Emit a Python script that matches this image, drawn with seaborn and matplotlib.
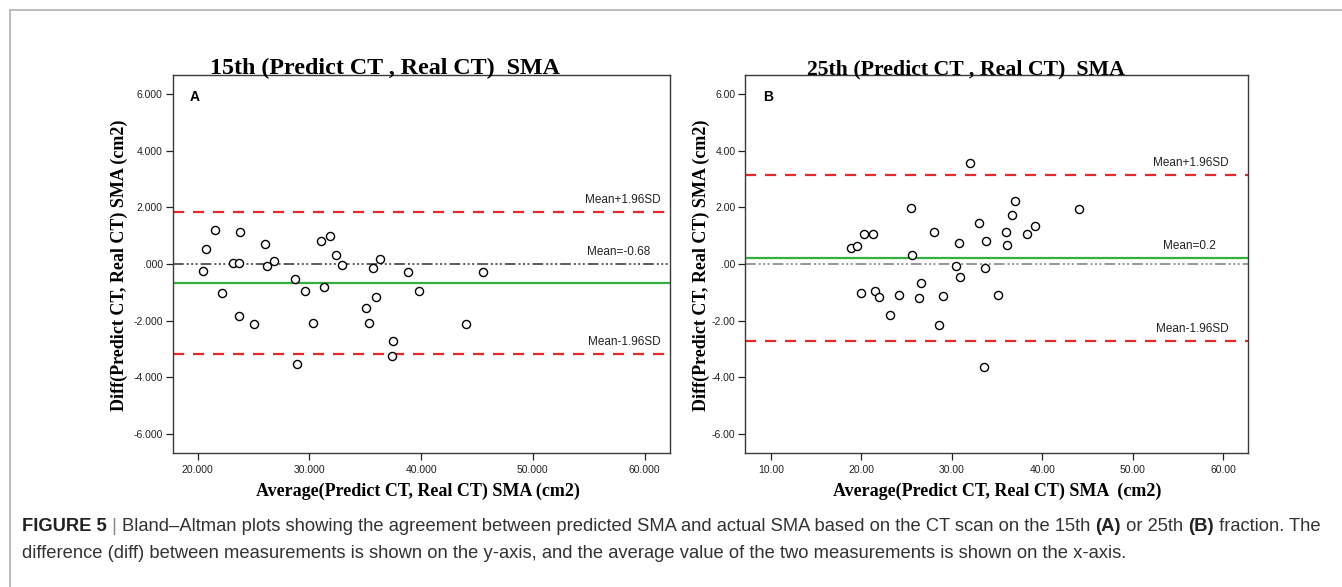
import numpy as np
import pandas as pd
import matplotlib
matplotlib.use("Agg")
import matplotlib.pyplot as plt
from matplotlib.lines import Line2D
from matplotlib.ticker import FuncFormatter
import seaborn as sns

# ---------------- data ----------------
avg_15 = [20.51, 20.78, 21.56, 22.21, 23.14, 23.73, 23.82, 23.70, 25.08, 26.00,
          26.24, 26.81, 28.69, 28.87, 29.58, 30.30, 31.01, 31.34, 31.88, 32.36,
          32.95, 35.10, 35.37, 35.70, 35.99, 36.32, 37.51, 37.40, 38.83, 39.81,
          43.99, 45.54]
diff_15 = [-0.26, 0.53, 1.20, -1.04, 0.04, 0.02, 1.14, -1.85, -2.12, 0.71,
           -0.07, 0.09, -0.52, -3.52, -0.95, -2.09, 0.81, -0.82, 0.98, 0.31,
           -0.05, -1.55, -2.09, -0.15, -1.15, 0.19, -2.71, -3.25, -0.29, -0.94,
           -2.12, -0.29]
mean_15, upper_15, lower_15 = -0.68, 1.85, -3.17

avg_25 = [18.84, 19.50, 20.28, 21.30, 19.98, 21.49, 22.00, 23.18, 24.21, 25.50,
          25.65, 26.35, 26.64, 28.01, 28.56, 29.07, 30.48, 30.81, 30.92, 32.06,
          32.98, 33.54, 33.72, 33.76, 35.08, 36.04, 36.08, 36.70, 36.96, 38.32,
          39.20, 44.03]
diff_25 = [0.58, 0.62, 1.06, 1.06, -1.01, -0.94, -1.16, -1.79, -1.09, 1.99,
           0.33, -1.20, -0.68, 1.14, -2.16, -1.12, -0.08, 0.73, -0.46, 3.58,
           1.44, -3.64, -0.15, 0.80, -1.08, 1.14, 0.67, 1.72, 2.21, 1.06,
           1.33, 1.93]
mean_25, upper_25, lower_25 = 0.2, 3.13, -2.72

titles = ["15th (Predict CT , Real CT)  SMA", "25th (Predict CT , Real CT)  SMA"]
panel_letters = ["A", "B"]
xlabels = ["Average(Predict CT, Real CT) SMA (cm2)", "Average(Predict CT, Real CT) SMA  (cm2)"]
ylabel = "Diff(Predict CT, Real CT) SMA (cm2)"
mean_labels = ["Mean=-0.68", "Mean=0.2"]
x_ticks = [[20, 30, 40, 50, 60], [10, 20, 30, 40, 50, 60]]
y_ticks = [-6, -4, -2, 0, 2, 4, 6]
decimals = [3, 2]
caption1 = ["FIGURE 5", " | ", "Bland\u2013Altman plots showing the agreement between predicted SMA and actual SMA based on the CT scan on the 15th ",
            "(A)", " or 25th ", "(B)", " fraction. The"]
caption2 = "difference (diff) between measurements is shown on the y-axis, and the average value of the two measurements is shown on the x-axis."

# ---------------- style ----------------
sns.set_style("white")
plt.rcParams["font.family"] = ["Liberation Sans", "DejaVu Sans"]

W, H = 1342, 587
fig = plt.figure(figsize=(W / 100, H / 100), dpi=100)

def fx(px):
    return px / W

def fy(py):
    return 1 - py / H

# border of figure box
fig.add_artist(Line2D([fx(10), fx(10)], [fy(10), 0], color="#b0b0b0", lw=1.2))
fig.add_artist(Line2D([fx(10), 1], [fy(10), fy(10)], color="#b0b0b0", lw=1.2))

serif = ["Liberation Serif", "DejaVu Serif"]

panels = [
    dict(x=avg_15, y=diff_15, mean=mean_15, up=upper_15, lo=lower_15,
         left=172.5, right=670, xlim=(17.75, 62.27), zero_color="#303030",
         title_x=385, title_size=17.3, ylab_x=119, xlab_x=418, mean_on_zero=True,
         lab_off=[7, 14, 7]),
    dict(x=avg_25, y=diff_25, mean=mean_25, up=upper_25, lo=lower_25,
         left=745.3, right=1248, xlim=(7.19, 62.74), zero_color="#7a7a7a",
         title_x=966, title_size=15.7, ylab_x=701, xlab_x=997, mean_on_zero=False,
         lab_off=[14, 23, 14]),
]

top_px, bot_px = 75.5, 452.5
axes = []
for i, p in enumerate(panels):
    ax = fig.add_axes([fx(p["left"]), fy(bot_px), fx(p["right"] - p["left"]), (bot_px - top_px) / H])
    axes.append(ax)
    df = pd.DataFrame({"avg": p["x"], "diff": p["y"]})
    # reference lines
    ax.axhline(0, color=p["zero_color"], lw=1.1, dashes=(7, 2, 1.3, 1.6, 1.3, 1.6, 1.3, 2), zorder=1)
    ax.axhline(p["up"], color="#e8282b", lw=1.6, dashes=(5, 4), zorder=1)
    ax.axhline(p["lo"], color="#e8282b", lw=1.6, dashes=(5, 4), zorder=1)
    ax.axhline(p["mean"], color="#33b040", lw=1.6, zorder=1)
    sns.scatterplot(data=df, x="avg", y="diff", ax=ax, marker="o", s=34,
                    facecolor="white", edgecolor="black", linewidth=1.0, zorder=3)
    ax.set_xlim(*p["xlim"])
    ax.set_ylim(-6.65, 6.65)
    ax.set_xticks(x_ticks[i])
    ax.set_yticks(y_ticks)
    d = decimals[i]

    def fmt(v, pos, d=d):
        s = f"{v:.{d}f}"
        if s.startswith("0."):
            s = s[1:]
        elif s.startswith("-0.") and abs(v) < 1e-9:
            s = s[2:]
        return s

    ax.xaxis.set_major_formatter(FuncFormatter(fmt))
    ax.yaxis.set_major_formatter(FuncFormatter(fmt))
    ax.tick_params(axis="both", which="major", direction="out", length=5, width=0.9,
                   labelsize=7.5, colors="#222222", left=True, bottom=True, pad=2)
    ax.tick_params(axis="x", pad=4)
    for sp in ax.spines.values():
        sp.set_color("#3a3a3a")
        sp.set_linewidth(1.0)
    ax.set_xlabel("")
    ax.set_ylabel("")
    # line labels
    line_vals = [p["up"], 0 if p["mean_on_zero"] else p["mean"], p["lo"]]
    line_texts = ["Mean+1.96SD", mean_labels[i], "Mean-1.96SD"]
    for val, txt, off in zip(line_vals, line_texts, p["lab_off"]):
        ax.annotate(txt, xy=(1, val), xycoords=("axes fraction", "data"),
                    xytext=(-off, 6.5), textcoords="offset points",
                    ha="right", va="baseline", fontsize=8.5, color="#222222")
    # panel letter
    ax.text(0.035, 0.962, panel_letters[i], transform=ax.transAxes, fontsize=10,
            fontweight="bold", ha="left", va="top", color="black")
    # title / axis labels (figure coords)
    fig.text(fx(p["title_x"]), fy(74), titles[i], family=serif, fontsize=p["title_size"],
             fontweight="bold", ha="center", va="baseline", color="black")
    fig.text(fx(p["ylab_x"]), fy(265), ylabel, family=serif, fontsize=13,
             fontweight="bold", rotation=90, ha="center", va="center", color="black")
    fig.text(fx(p["xlab_x"]), fy(496), xlabels[i], family=serif, fontsize=13,
             fontweight="bold", ha="center", va="baseline", color="black")

# caption: chain segments so bold/normal parts follow each other
cap_family = ["Liberation Sans Narrow", "Liberation Sans", "DejaVu Sans"]
cap_size = 13.2
weights = ["bold", "normal", "normal", "bold", "normal", "bold", "normal"]
colors = ["#222222", "#888888", "#333333", "#222222", "#333333", "#222222", "#333333"]
prev = fig.text(fx(22), fy(531), caption1[0], family=cap_family, fontsize=cap_size,
                fontweight=weights[0], color=colors[0], ha="left", va="baseline")
for seg, w, c in zip(caption1[1:], weights[1:], colors[1:]):
    prev = axes[0].annotate(seg, xy=(1, 0), xycoords=prev, xytext=(0, 0),
                            textcoords="offset points", family=cap_family,
                            fontsize=cap_size, fontweight=w, color=c,
                            ha="left", va="bottom", annotation_clip=False)
fig.text(fx(22), fy(558), caption2, family=cap_family, fontsize=cap_size,
         color="#333333", ha="left", va="baseline")

fig.savefig("out.png", dpi=100)
